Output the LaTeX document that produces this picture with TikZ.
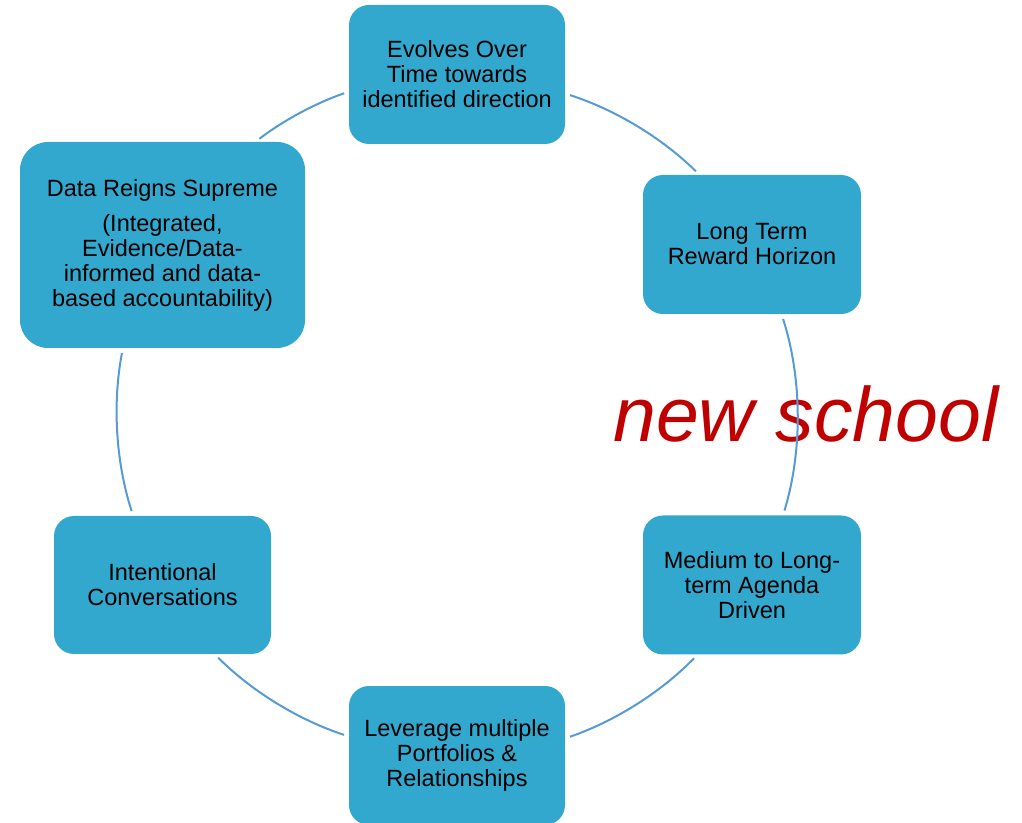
\documentclass[tikz,border=0pt]{standalone}
\usepackage{fontspec}
\setmainfont{Liberation Sans}
\definecolor{boxblue}{RGB}{50,168,206}
\definecolor{ringblue}{RGB}{86,154,214}
\definecolor{schoolred}{RGB}{192,0,0}
\tikzset{
  stage/.style={fill=boxblue, rounded corners=20pt, align=center, inner sep=0pt,
    minimum width=216pt, minimum height=139pt, font=\fontsize{23.5}{25}\selectfont},
  ring/.style={ringblue, line width=2pt, shorten <=5pt, shorten >=5pt, looseness=0.86},
}
\begin{document}
\begin{tikzpicture}[x=1pt,y=1pt]
  \useasboundingbox (0,0) rectangle (1022,822);
  % the six boxes round the ring
  \node[stage] (top) at (457,747.5) {Evolves Over\\Time towards\\identified direction};
  \node[stage, minimum width=218pt] (ru) at (752,577.5) {Long Term\\Reward Horizon};
  \node[stage, minimum width=218pt] (rl) at (752,237) {Medium to Long-\\term Agenda\\Driven};
  \node[stage] (bot) at (457,66.5) {Leverage multiple\\Portfolios \&\\Relationships};
  \node[stage, minimum width=217pt, minimum height=138pt] (ll) at (162.5,237) {Intentional\\Conversations};
  \node[stage, minimum width=285pt, minimum height=206pt, rounded corners=28pt] (ul) at (162.5,577)
    {Data Reigns Supreme\\[10pt](Integrated,\\Evidence/Data-\\informed and data-\\based accountability)};
  \node[text=schoolred, anchor=base west, inner sep=0pt, font=\fontsize{77}{80}\selectfont\itshape] (slogan) at (613,380) {new school};
  % ring segments
  \draw[ring] (top.350.5) to[bend left=13.3] (ru.127.9);
  \draw[ring] (ru.293.1) to[bend left=17.25] (rl.66.8);
  \draw[ring] (rl.232.3) to[bend left=13.35] (bot.9.5);
  \draw[ring] (bot.170.5) to[bend left=13.4] (ll.307.4);
  \draw[ring] (ll.113.6) to[bend left=14.35] (ul.249.4);
  \draw[ring] (ul.48.3) to[bend left=9.05] (top.189.5);
\end{tikzpicture}
\end{document}
